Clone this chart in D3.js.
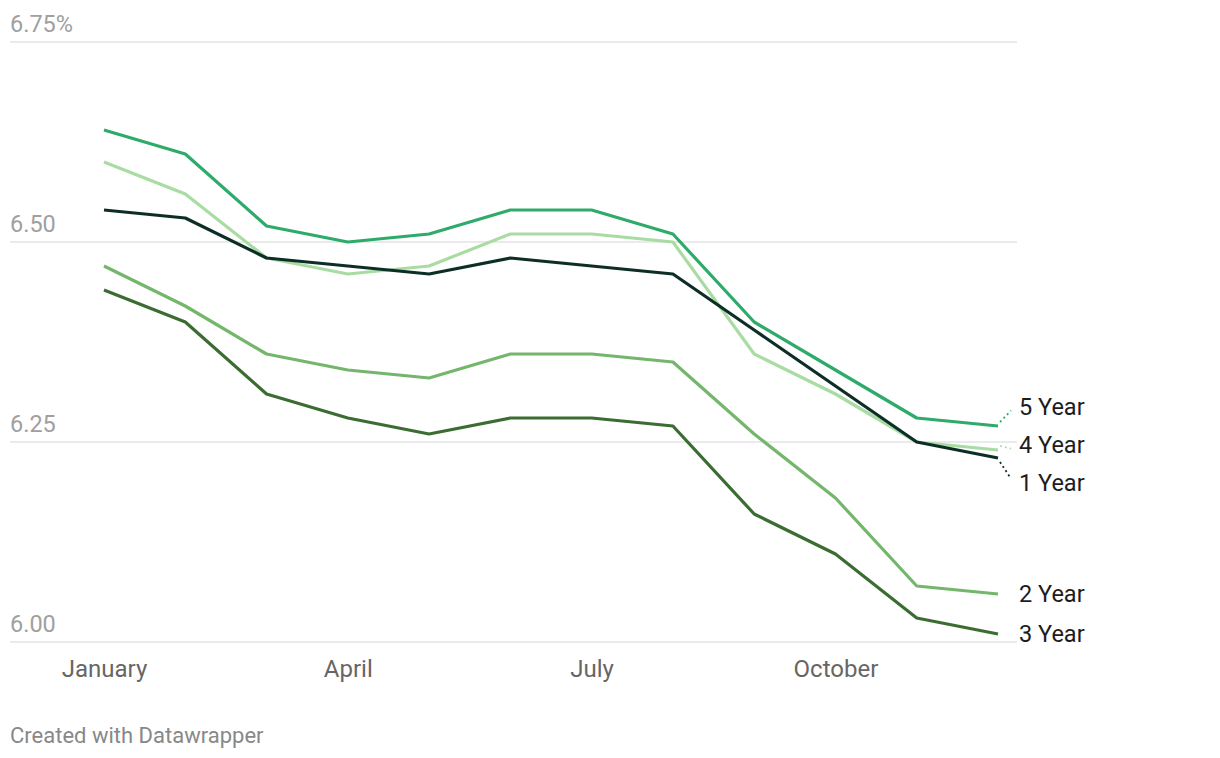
<!DOCTYPE html>
<html>
<head>
<meta charset="utf-8">
<script src="https://cdn.jsdelivr.net/npm/d3@7"></script>
<style>
  body { margin: 0; background: #fff; font-family: Roboto, "Noto Sans", sans-serif; }
  svg { display: block; }
</style>
</head>
<body>
<svg id="chart"></svg>
<script>
// chart data
const months = ["January", "February", "March", "April", "May", "June",
  "July", "August", "September", "October", "November", "December"];
const xTickMonths = ["January", "April", "July", "October"];
const yTicks = [6.00, 6.25, 6.50, 6.75];

const year1 = [6.54, 6.53, 6.48, 6.47, 6.46, 6.48, 6.47, 6.46, 6.39, 6.32, 6.25, 6.23];
const year2 = [6.47, 6.42, 6.36, 6.34, 6.33, 6.36, 6.36, 6.35, 6.26, 6.18, 6.07, 6.06];
const year3 = [6.44, 6.40, 6.31, 6.28, 6.26, 6.28, 6.28, 6.27, 6.16, 6.11, 6.03, 6.01];
const year4 = [6.60, 6.56, 6.48, 6.46, 6.47, 6.51, 6.51, 6.50, 6.36, 6.31, 6.25, 6.24];
const year5 = [6.64, 6.61, 6.52, 6.50, 6.51, 6.54, 6.54, 6.51, 6.40, 6.34, 6.28, 6.27];

const seriesNames = ["2 Year", "3 Year", "4 Year", "1 Year", "5 Year"];
const seriesValues = [year2, year3, year4, year1, year5];
const seriesColors = ["#74b66b", "#3b6c31", "#a9dca3", "#0d2e27", "#2eab6b"];

// dimensions
const width = 1220;
const height = 758;

const svg = d3.select("#chart")
  .attr("width", width)
  .attr("height", height);

const xScale = d3.scalePoint()
  .domain(months)
  .range([104, 998]);

const yScale = d3.scaleLinear()
  .domain([6.0, 6.75])
  .range([642, 42]);

// grid lines
svg.append("g")
  .selectAll("line")
  .data(yTicks)
  .enter()
  .append("line")
  .attr("x1", 10)
  .attr("x2", 1017)
  .attr("y1", d => yScale(d))
  .attr("y2", d => yScale(d))
  .attr("stroke", "#e3e3e3")
  .attr("stroke-width", 1.5);

// y tick labels
svg.append("g")
  .selectAll("text")
  .data(yTicks)
  .enter()
  .append("text")
  .attr("x", 10)
  .attr("y", d => yScale(d) - 10)
  .attr("fill", "#a0a0a0")
  .attr("font-size", "23.5px")
  .text((d, i) => d.toFixed(2) + (i === yTicks.length - 1 ? "%" : ""));

// x axis
const xAxis = svg.append("g")
  .attr("transform", "translate(0,642)")
  .call(d3.axisBottom(xScale).tickValues(xTickMonths).tickSize(0).tickPadding(18));
xAxis.select(".domain").remove();
xAxis.selectAll("text")
  .attr("fill", "#666")
  .attr("font-size", "24px")
  .attr("font-family", "Roboto, sans-serif");

// lines
const line = d3.line()
  .x((d, i) => xScale(months[i]))
  .y(d => yScale(d));

svg.append("g")
  .selectAll("path")
  .data(seriesValues)
  .enter()
  .append("path")
  .attr("fill", "none")
  .attr("stroke", (d, i) => seriesColors[i])
  .attr("stroke-width", 3.2)
  .attr("stroke-linejoin", "round")
  .attr("d", line);

// end labels with simple overlap avoidance
const labels = seriesNames.map((name, i) => {
  const last = seriesValues[i][months.length - 1];
  return { name, color: seriesColors[i], y0: yScale(last), y: yScale(last) };
}).sort((a, b) => a.y0 - b.y0);

const gap = 38;
let groups = labels.map(l => ({ items: [l], mean: l.y0 }));
let merged = true;
while (merged) {
  merged = false;
  for (let i = 0; i < groups.length - 1; i++) {
    const a = groups[i], b = groups[i + 1];
    const aEnd = a.mean + (a.items.length - 1) * gap / 2;
    const bStart = b.mean - (b.items.length - 1) * gap / 2;
    if (bStart - aEnd < gap) {
      const items = a.items.concat(b.items);
      groups.splice(i, 2, { items, mean: d3.mean(items, d => d.y0) });
      merged = true;
      break;
    }
  }
}
groups.forEach(g => {
  g.items.forEach((l, k) => { l.y = g.mean + (k - (g.items.length - 1) / 2) * gap; });
});

const xEnd = xScale(months[months.length - 1]);

svg.append("g")
  .selectAll("line")
  .data(labels.filter(l => Math.abs(l.y - l.y0) > 2))
  .enter()
  .append("line")
  .attr("x1", xEnd + 2)
  .attr("y1", d => d.y0 + (d.y > d.y0 ? 4 : -4))
  .attr("x2", xEnd + 13)
  .attr("y2", d => d.y + (d.y > d.y0 ? -4 : 4))
  .attr("stroke", d => d.color)
  .attr("stroke-width", 1.8)
  .attr("stroke-dasharray", "2,3");

svg.append("g")
  .selectAll("text")
  .data(labels)
  .enter()
  .append("text")
  .attr("x", 1019)
  .attr("y", d => d.y)
  .attr("dy", "0.35em")
  .attr("fill", "#1d1d1d")
  .attr("font-size", "23.5px")
  .text(d => d.name);

// footer
svg.append("text")
  .attr("x", 10)
  .attr("y", 743)
  .attr("fill", "#888")
  .attr("font-size", "22px")
  .text("Created with Datawrapper");
</script>
</body>
</html>
